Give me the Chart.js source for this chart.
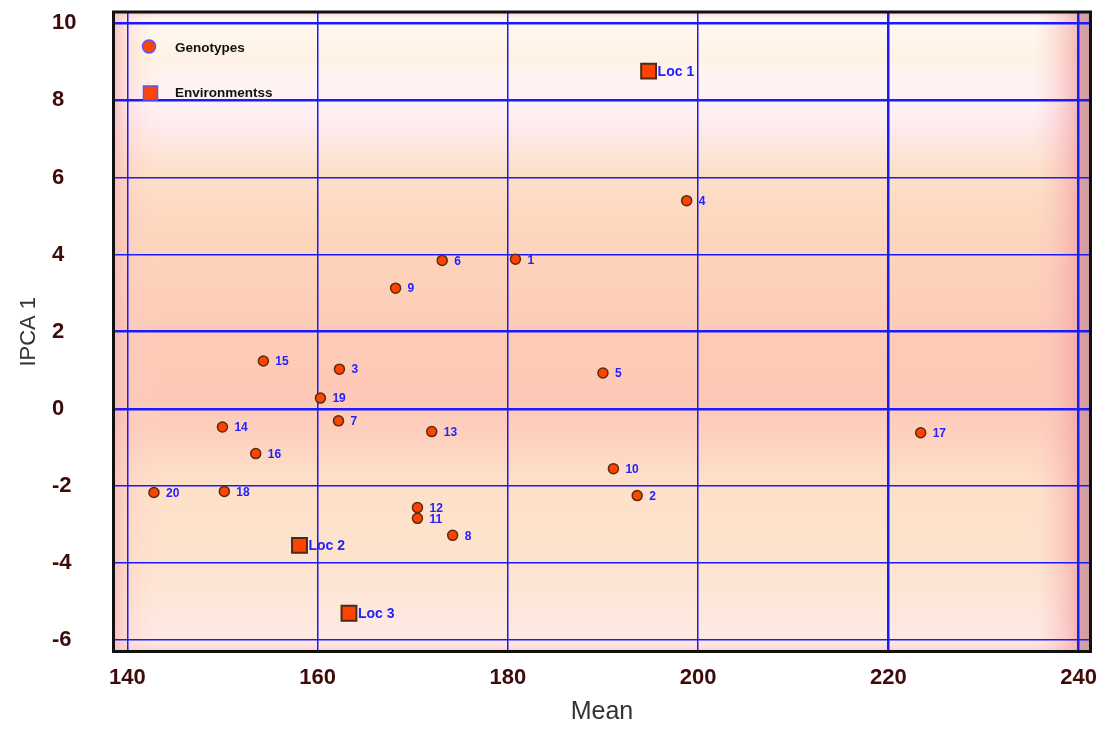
<!DOCTYPE html>
<html>
<head>
<meta charset="utf-8">
<script src="https://cdn.jsdelivr.net/npm/chart.js@4.4.0/dist/chart.umd.min.js"></script>
<style>
  html, body { margin: 0; padding: 0; background: #ffffff; }
  #wrap { width: 1111px; height: 729px; position: relative; }
</style>
</head>
<body>
<div id="wrap"><canvas id="c" width="1111" height="729"></canvas></div>
<script>
// ---- Data ----
const genotypeLabels = ['1','2','3','4','5','6','7','8','9','10','11','12','13','14','15','16','17','18','19','20'];
const genotypeMean   = [180.8, 193.6, 162.3, 198.8, 190.0, 173.1, 162.2, 174.2, 168.2, 191.1, 170.5, 170.5, 172.0, 150.0, 154.3, 153.5, 223.4, 150.2, 160.3, 142.8];
const genotypeIPCA1  = [3.88, -2.25, 1.03, 5.40, 0.93, 3.85, -0.31, -3.28, 3.13, -1.55, -2.84, -2.56, -0.59, -0.47, 1.24, -1.16, -0.62, -2.14, 0.28, -2.17];

const envLabels = ['Loc 1', 'Loc 2', 'Loc 3'];
const envMean   = [194.8, 158.1, 163.3];
const envIPCA1  = [8.76, -3.54, -5.30];

const xTicks = [140, 160, 180, 200, 220, 240];
const yTicks = [-6, -4, -2, 0, 2, 4, 6, 8, 10];
const thickX = [220, 240];
const thickY = [10, 8, 2, 0];

const legendNames = ['Genotypes', 'Environmentss'];

// ---- Plugins ----
const bgPlugin = {
  id: 'bg',
  beforeDraw(chart) {
    const {ctx, chartArea: a} = chart;
    const h = a.bottom - a.top, w = a.right - a.left;
    ctx.save();
    const g = ctx.createLinearGradient(0, a.top, 0, a.bottom);
    const stops = [
      [0.000, '#fcd8d8'], [0.010, '#fff9f4'], [0.062, '#fef3e4'], [0.109, '#fff2f2'],
      [0.156, '#fdf0f6'], [0.195, '#fde8e4'], [0.250, '#fde0c9'], [0.343, '#fdd6bd'],
      [0.500, '#fdcbb7'], [0.608, '#fdc9b6'], [0.670, '#fdd2bf'], [0.733, '#fde0c9'],
      [0.858, '#fde3cd'], [0.936, '#fee8dc'], [0.985, '#feeae6'], [1.000, '#fcd4d4']
    ];
    stops.forEach(s => g.addColorStop(s[0], s[1]));
    ctx.fillStyle = g;
    ctx.fillRect(a.left, a.top, w, h);
    const gl = ctx.createLinearGradient(a.left, 0, a.left + 45, 0);
    gl.addColorStop(0, 'rgba(248,180,180,0.75)');
    gl.addColorStop(0.3, 'rgba(250,195,190,0.35)');
    gl.addColorStop(1, 'rgba(255,220,210,0)');
    ctx.fillStyle = gl;
    ctx.fillRect(a.left, a.top, 45, h);
    const gr = ctx.createLinearGradient(a.right - 55, 0, a.right, 0);
    gr.addColorStop(0, 'rgba(250,200,200,0)');
    gr.addColorStop(0.6, 'rgba(246,170,170,0.55)');
    gr.addColorStop(0.78, 'rgba(235,160,160,0.7)');
    gr.addColorStop(0.82, 'rgba(215,158,160,0.95)');
    gr.addColorStop(1, 'rgba(210,155,158,1)');
    ctx.fillStyle = gr;
    ctx.fillRect(a.right - 55, a.top, 55, h);
    ctx.restore();
  },
  afterDraw(chart) {
    const {ctx, chartArea: a} = chart;
    ctx.save();
    ctx.strokeStyle = '#111111';
    ctx.lineWidth = 3;
    ctx.strokeRect(a.left - 0.5, a.top - 0.5, a.right - a.left + 1, a.bottom - a.top + 1);
    ctx.restore();
  }
};

const labelPlugin = {
  id: 'pointLabels',
  afterDatasetsDraw(chart) {
    const {ctx} = chart;
    ctx.save();
    ctx.fillStyle = '#2222ff';
    ctx.textBaseline = 'middle';
    ctx.textAlign = 'left';
    const m0 = chart.getDatasetMeta(0);
    ctx.font = 'bold 12px "Liberation Sans", Arial, sans-serif';
    m0.data.forEach((el, i) => ctx.fillText(genotypeLabels[i], el.x + 12, el.y + 1));
    const m1 = chart.getDatasetMeta(1);
    ctx.font = 'bold 14px "Liberation Sans", Arial, sans-serif';
    m1.data.forEach((el, i) => ctx.fillText(envLabels[i], el.x + 9, el.y + 1));
    ctx.restore();
  }
};

const legendPlugin = {
  id: 'innerLegend',
  afterDatasetsDraw(chart) {
    const {ctx, chartArea: a} = chart;
    ctx.save();
    ctx.beginPath();
    ctx.arc(a.left + 35, a.top + 34, 6.5, 0, Math.PI * 2);
    ctx.fillStyle = '#ff4400';
    ctx.fill();
    ctx.lineWidth = 1.5;
    ctx.strokeStyle = '#5555ff';
    ctx.stroke();
    ctx.fillStyle = '#ff4400';
    ctx.fillRect(a.left + 29.5, a.top + 73.5, 14, 14);
    ctx.strokeRect(a.left + 29.5, a.top + 73.5, 14, 14);
    ctx.fillStyle = '#111111';
    ctx.font = 'bold 13.5px "Liberation Sans", Arial, sans-serif';
    ctx.textBaseline = 'middle';
    ctx.fillText(legendNames[0], a.left + 61, a.top + 36);
    ctx.fillText(legendNames[1], a.left + 61, a.top + 81);
    ctx.restore();
  }
};

const tickFont = { family: '"Liberation Sans Narrow", "Liberation Sans", Arial, sans-serif', size: 22, weight: 'bold' };

new Chart(document.getElementById('c'), {
  type: 'scatter',
  data: {
    datasets: [
      {
        label: legendNames[0],
        data: genotypeMean.map((x, i) => ({x: x, y: genotypeIPCA1[i]})),
        pointStyle: 'circle',
        pointRadius: 5,
        pointBackgroundColor: '#ff4400',
        pointBorderColor: '#5a2a14',
        pointBorderWidth: 1.5
      },
      {
        label: legendNames[1],
        data: envMean.map((x, i) => ({x: x, y: envIPCA1[i]})),
        pointStyle: 'rect',
        pointRadius: 10.5,
        pointBackgroundColor: '#ff4400',
        pointBorderColor: '#4a2a1a',
        pointBorderWidth: 2
      }
    ]
  },
  options: {
    responsive: false,
    animation: false,
    events: [],
    layout: { padding: { left: 52, right: 21, top: 10, bottom: 0 } },
    plugins: { legend: { display: false }, tooltip: { enabled: false } },
    scales: {
      x: {
        type: 'linear',
        min: 138.6,
        max: 241.2,
        afterBuildTicks: s => { s.ticks = xTicks.map(v => ({value: v})); },
        afterFit: s => { s.height = 78; s.paddingLeft = 0; s.paddingRight = 0; },
        grid: {
          color: '#1a1aff',
          lineWidth: ctx => (ctx.tick && thickX.includes(ctx.tick.value)) ? 2.5 : 1.5,
          drawTicks: false
        },
        border: { display: false },
        ticks: { color: '#3e0a0a', font: tickFont, padding: 14, maxRotation: 0 },
        title: { display: true, text: 'Mean', color: '#333333',
                 font: { family: '"Liberation Sans", Arial, sans-serif', size: 25 }, padding: { top: 0, bottom: 2 } }
      },
      y: {
        type: 'linear',
        min: -6.28,
        max: 10.28,
        afterBuildTicks: s => { s.ticks = yTicks.map(v => ({value: v})); },
        afterFit: s => { s.width = 62; s.paddingTop = 0; s.paddingBottom = 0; },
        grid: {
          color: '#1a1aff',
          lineWidth: ctx => (ctx.tick && thickY.includes(ctx.tick.value)) ? 2.5 : 1.5,
          drawTicks: false
        },
        border: { display: false },
        ticks: { color: '#3e0a0a', font: tickFont, crossAlign: 'far', padding: 10 },
        title: { display: true, text: 'IPCA 1', color: '#333333',
                 font: { family: '"Liberation Sans", Arial, sans-serif', size: 22 }, padding: { top: -36, bottom: 0 } }
      }
    }
  },
  plugins: [bgPlugin, labelPlugin, legendPlugin]
});
</script>
</body>
</html>
